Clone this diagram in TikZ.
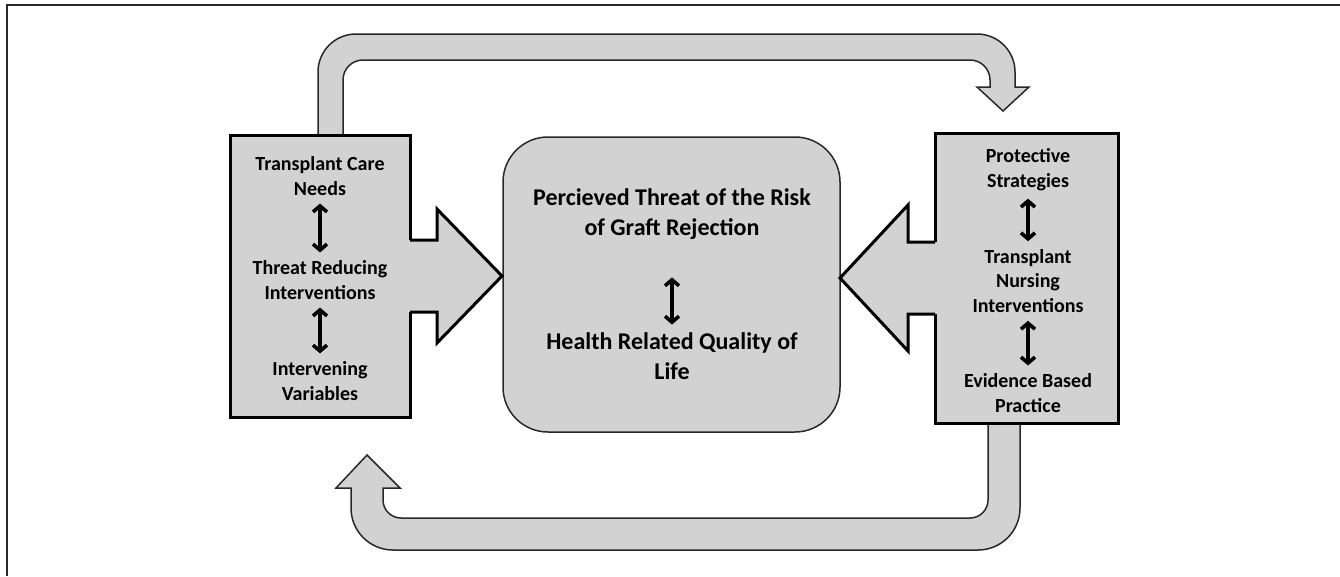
\documentclass[tikz,border=0pt]{standalone}
\usepackage{fontspec}
\setmainfont{Carlito}
\usetikzlibrary{arrows.meta,backgrounds}
\definecolor{panelgray}{RGB}{210,210,210}
\definecolor{edgegray}{RGB}{40,40,40}

\begin{document}
\begin{tikzpicture}[x=1pt,y=-1pt,
	panel/.style={draw=black,line width=3pt,fill=panelgray,outer sep=0pt,inner sep=0pt},
	band/.style={draw=edgegray,line width=1.5pt,fill=panelgray},
	sidetext/.style={font=\fontsize{20}{24.5}\selectfont\bfseries,align=center,inner sep=2pt},
	maintext/.style={font=\fontsize{24}{29.5}\selectfont\bfseries,align=center,inner sep=2pt},
	twoway/.style={line width=3.6pt,{Straight Barb[length=6pt,width=14pt]}-{Straight Barb[length=6pt,width=14pt]},shorten <=6pt,shorten >=6pt}]
	\useasboundingbox (0,0) rectangle (1340,576);
	\draw[edgegray,line width=1.5pt] (1340,5) -- (7,5) -- (7,576);

	\node[panel,minimum width=180pt,minimum height=282pt] (needsbox) at (320,276) {};
	\node[panel,minimum width=183pt,minimum height=290pt] (nursingbox) at (1026.5,278) {};
	\node[draw=edgegray,line width=1.5pt,fill=panelgray,rounded corners=45pt,outer sep=0pt,
		minimum width=337pt,minimum height=295pt] (threatbox) at (671.5,284.5) {};

	\begin{scope}[on background layer]
	\filldraw[band] (318,0 |- needsbox.north) [rounded corners=38pt] -- (318,34) -- (1015,34)
		[sharp corners] -- (1015,87) -- (1029,87) -- (1003,111) -- (977,87) -- (990,87)
		[rounded corners=20pt] -- (990,60) -- (343,60)
		[sharp corners] -- (343,0 |- needsbox.north) -- cycle;
	\filldraw[band] (1020,0 |- nursingbox.south) [rounded corners=42pt] -- (1020,550) -- (351,550)
		[sharp corners] -- (351,488) -- (336,488) -- (367,455) -- (400,488) -- (383,488)
		[rounded corners=18pt] -- (383,518) -- (988,518)
		[sharp corners] -- (988,0 |- nursingbox.south) -- cycle;
	\end{scope}

	\fill[panelgray] ([xshift=-2pt]needsbox.east) ++(0,-36) -- ++(29,0) -- ++(0,-31) -- ++(65,67)
		-- ++(-65,67) -- ++(0,-31) -- ++(-29,0) -- cycle;
	\draw[line width=3pt,line join=miter] (needsbox.east) ++(0,-36) -- ++(27,0) -- ++(0,-31)
		-- ++(65,67) -- ++(-65,67) -- ++(0,-31) -- ++(-27,0);
	\fill[panelgray] ([xshift=2pt]nursingbox.west) ++(0,-36) -- ++(-29,0) -- ++(0,-37) -- ++(-68,73)
		-- ++(68,73) -- ++(0,-37) -- ++(29,0) -- cycle;
	\draw[line width=3pt,line join=miter] (nursingbox.west) ++(0,-36) -- ++(-27,0) -- ++(0,-37)
		-- ++(-68,73) -- ++(68,73) -- ++(0,-37) -- ++(27,0);

	\node[sidetext] (careneeds) at (320,176) {Transplant Care\\Needs};
	\node[sidetext] (reducing) at (320,280) {Threat Reducing\\Interventions};
	\node[sidetext] (variables) at (320,381) {Intervening\\Variables};
	\node[sidetext] (protective) at (1028,169.5) {Protective\\Strategies};
	\node[sidetext] (nursing) at (1028,281) {Transplant\\Nursing\\Interventions};
	\node[sidetext] (evidence) at (1028,393) {Evidence Based\\Practice};
	\node[maintext] (threat) at (672,214) {Percieved Threat of the Risk\\of Graft Rejection};
	\node[maintext] (hrqol) at (672,356) {Health Related Quality of\\Life};

	\draw[twoway] (careneeds) -- (reducing);
	\draw[twoway] (reducing) -- (variables);
	\draw[twoway] (protective) -- (nursing);
	\draw[twoway] (nursing) -- (evidence);
	\draw[twoway,shorten <=36pt] (threat) -- (hrqol);
\end{tikzpicture}
\end{document}
